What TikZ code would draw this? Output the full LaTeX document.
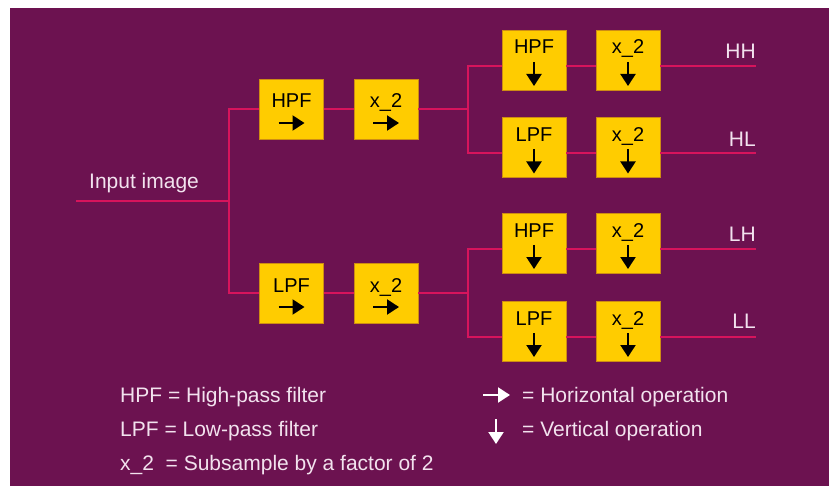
\documentclass[tikz,border=0pt]{standalone}
\usepackage{fontspec}
\setmainfont{Liberation Sans}
\usetikzlibrary{arrows.meta}
\definecolor{bgpurple}{RGB}{108,18,80}
\definecolor{wirecol}{RGB}{214,20,92}
\definecolor{boxfill}{RGB}{255,204,0}
\definecolor{boxedge}{RGB}{205,140,20}
\definecolor{legendtext}{RGB}{242,226,238}
\begin{document}
\begin{tikzpicture}[x=1pt,y=-1pt,
  wire/.style={draw=wirecol, line width=1.7pt},
  fbox/.style={draw=boxedge, fill=boxfill, line width=0.8pt, minimum width=64pt, minimum height=60pt, inner sep=0pt},
  btext/.style={font=\fontsize{20}{20}\selectfont, text=black, inner sep=0pt, anchor=base},
  wtext/.style={font=\fontsize{21}{21}\selectfont, text=legendtext, inner sep=0pt},
  op/.style={line width=2.2pt, -{Triangle[length=12pt,width=15pt]}},
]
\useasboundingbox (0,0) rectangle (829,486);
\fill[bgpurple] (10,8) rectangle (829,486);

% stage 1 boxes
\node[fbox] (h1) at (291.5,109) {};
\node[fbox] (hx1) at (386,109) {};
\node[fbox] (l1) at (291.5,293) {};
\node[fbox] (lx1) at (386,293) {};

% stage 2 boxes
\node[fbox] (hh) at (534,60) {};
\node[fbox] (hhx) at (628,60) {};
\node[fbox] (hl) at (534,147.5) {};
\node[fbox] (hlx) at (628,147.5) {};
\node[fbox] (lh) at (534,243) {};
\node[fbox] (lhx) at (628,243) {};
\node[fbox] (ll) at (534,331) {};
\node[fbox] (llx) at (628,331) {};

% coordinates
\coordinate (in) at (76,201);
\coordinate (j0) at (229,201);
\coordinate (j1) at (468,109);
\coordinate (j2) at (468,293);
\coordinate (ohh) at (756,66);
\coordinate (ohl) at (756,153);
\coordinate (olh) at (756,249);
\coordinate (oll) at (756,337);

% wires
\draw[wire] (in) -- (j0);
\draw[wire] (j0) |- (h1.west);
\draw[wire] (j0) |- (l1.west);
\draw[wire] (h1.east) -- (hx1.west);
\draw[wire] (l1.east) -- (lx1.west);
\draw[wire] (hx1.east) -- (j1);
\draw[wire] (lx1.east) -- (j2);
\draw[wire] (j1) |- ([yshift=-6pt]hh.west);
\draw[wire] (j1) |- ([yshift=-5.5pt]hl.west);
\draw[wire] (j2) |- ([yshift=-6pt]lh.west);
\draw[wire] (j2) |- ([yshift=-6pt]ll.west);
\draw[wire] ([yshift=-6pt]hh.east) -- ([yshift=-6pt]hhx.west);
\draw[wire] ([yshift=-5.5pt]hl.east) -- ([yshift=-5.5pt]hlx.west);
\draw[wire] ([yshift=-6pt]lh.east) -- ([yshift=-6pt]lhx.west);
\draw[wire] ([yshift=-6pt]ll.east) -- ([yshift=-6pt]llx.west);
\draw[wire] ([yshift=-6pt]hhx.east) -- (ohh);
\draw[wire] ([yshift=-5.5pt]hlx.east) -- (ohl);
\draw[wire] ([yshift=-6pt]lhx.east) -- (olh);
\draw[wire] ([yshift=-6pt]llx.east) -- (oll);

% stage 1 box contents
\foreach \b/\t in {h1/HPF, hx1/x\_2, l1/LPF, lx1/x\_2}{
  \node[btext] (\b t) at ([yshift=1pt]\b.center) {\t};
  \draw[op] ([xshift=-13pt,yshift=-14pt]\b.center) -- ([xshift=13pt,yshift=-14pt]\b.center);
}
% stage 2 box contents
\foreach \b/\t in {hh/HPF, hhx/x\_2, hl/LPF, hlx/x\_2, lh/HPF, lhx/x\_2, ll/LPF, llx/x\_2}{
  \node[btext] (\b t) at ([yshift=6pt]\b.center) {\t};
  \draw[op] ([yshift=-2pt]\b.center) -- ([yshift=-26pt]\b.center);
}

% labels
\node[wtext, anchor=base west] (inl) at (89,189) {Input image};
\node[wtext, anchor=base east] (lhhl) at (756,59) {HH};
\node[wtext, anchor=base east] (lhll) at (756,147) {HL};
\node[wtext, anchor=base east] (llhl) at (756,242) {LH};
\node[wtext, anchor=base east] (llll) at (756,328) {LL};

% legend
\node[wtext, anchor=base west] (lg1) at (120,402) {HPF = High-pass filter};
\node[wtext, anchor=base west] (lg2) at (120,436) {LPF = Low-pass filter};
\node[wtext, anchor=base west] (lg3) at (120,470) {x\_2 \ = Subsample by a factor of 2};
\node[wtext, anchor=base west] (lg4) at (522,402) {= Horizontal operation};
\node[wtext, anchor=base west] (lg5) at (522,436) {= Vertical operation};
\coordinate (ah1) at (483,395);
\coordinate (ah2) at (510,395);
\coordinate (av1) at (496,419);
\coordinate (av2) at (496,444);
\draw[op, white] (ah1) -- (ah2);
\draw[op, white] (av1) -- (av2);
\end{tikzpicture}
\end{document}
